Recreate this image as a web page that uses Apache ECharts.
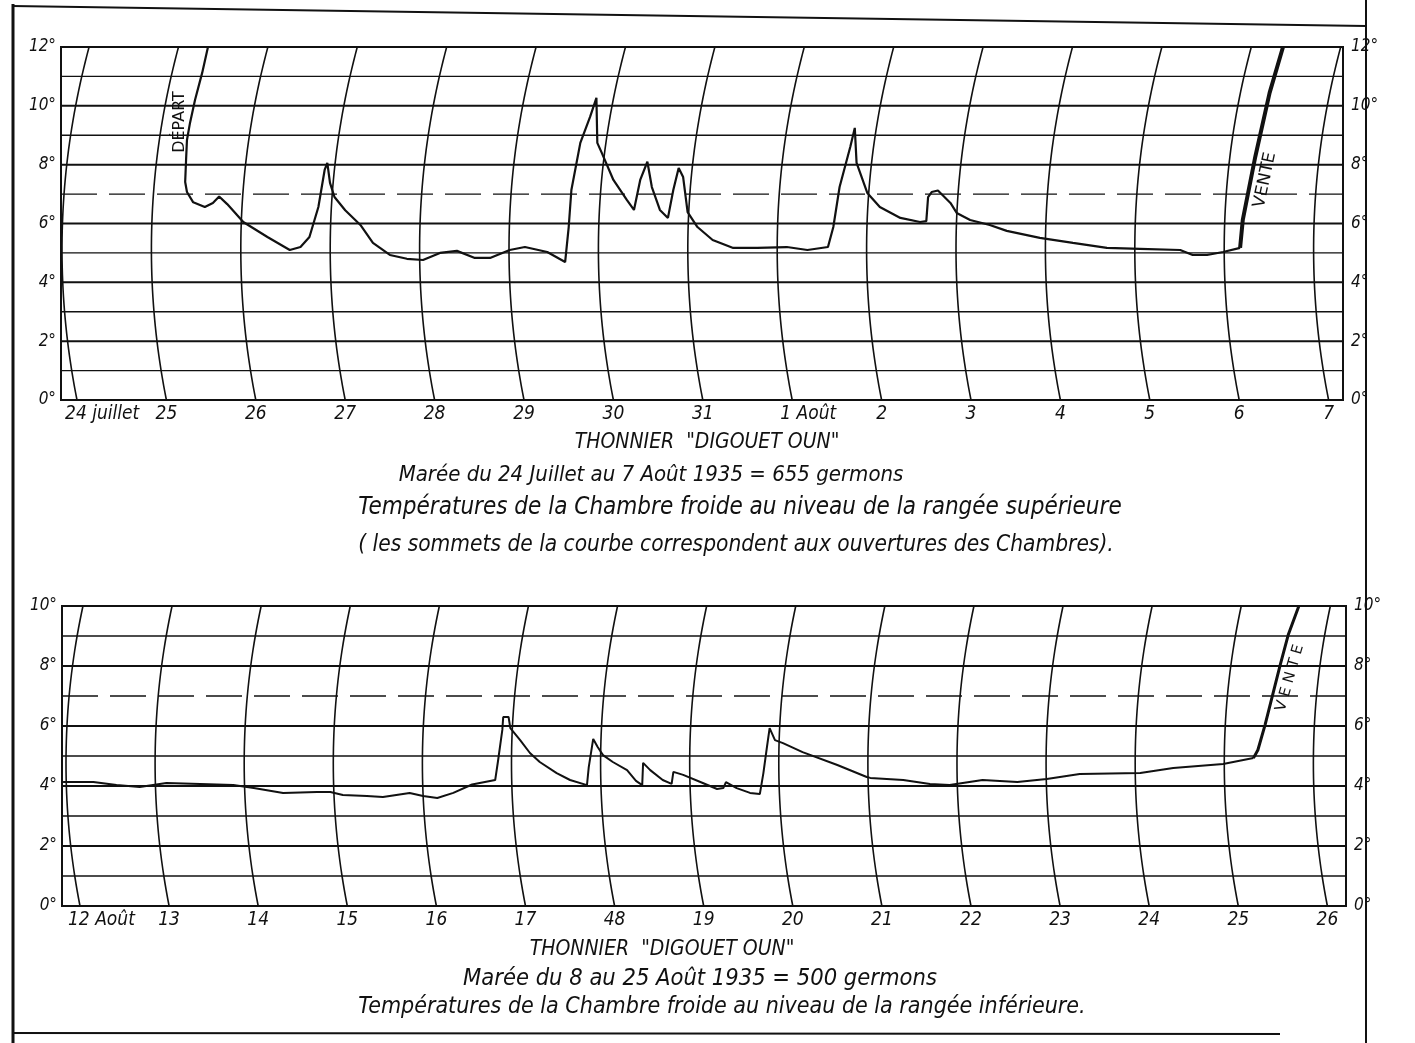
<!DOCTYPE html>
<html>
<head>
<meta charset="utf-8">
<title>Thonnier Digouet Oun</title>
<script src="https://cdn.jsdelivr.net/npm/echarts@6/dist/echarts.min.js"></script>
<style>
  html, body { margin: 0; background: #fff; }
  #main { width: 1415px; height: 1043px; }
</style>
</head>
<body>
<div id="main"></div>
<script>
// day lines of the thermograph paper, 0 = first day shown
const topDays = [0, 1, 2, 3, 4, 5, 6, 7, 8, 9, 10, 11, 12, 13, 14];
const topDayLabels = ['24 juillet', '25', '26', '27', '28', '29', '30', '31', '1 Août', '2', '3', '4', '5', '6', '7'];
const topDegrees = [0, 1, 2, 3, 4, 5, 6, 7, 8, 9, 10, 11, 12];

const botDays = [0, 1, 2, 3, 4, 5, 6, 7, 8, 9, 10, 11, 12, 13, 14];
const botDayLabels = ['12 Août', '13', '14', '15', '16', '17', '48', '19', '20', '21', '22', '23', '24', '25', '26'];
const botDegrees = [0, 1, 2, 3, 4, 5, 6, 7, 8, 9, 10];

// top trip : time in days since 24 July, temperature in degrees
const topTime = [1.465, 1.40, 1.32, 1.264, 1.23, 1.22, 1.21, 1.23, 1.30, 1.43, 1.52, 1.59, 1.68, 1.86, 2.13, 2.38,
  2.50, 2.60, 2.70, 2.77, 2.80, 2.83, 2.88, 3.00, 3.17, 3.31, 3.50, 3.69, 3.87, 4.06, 4.25, 4.45, 4.62, 4.84,
  5.01, 5.26, 5.46, 5.50, 5.53, 5.63, 5.74, 5.81, 5.82, 5.87, 6.00, 6.15, 6.23, 6.30, 6.38, 6.43, 6.52, 6.61,
  6.67, 6.73, 6.78, 6.83, 6.94, 7.11, 7.34, 7.61, 7.94, 8.17, 8.40, 8.46, 8.53, 8.65, 8.70, 8.72, 8.84, 8.98,
  9.21, 9.43, 9.50, 9.52, 9.56, 9.63, 9.77, 9.84, 9.99, 10.21, 10.40, 10.77, 11.14, 11.52, 11.89, 12.34, 12.48,
  12.64, 12.82, 13.01];
const topTemp = [12.0, 11.12, 10.2, 9.42, 8.84, 8.16, 7.41, 7.07, 6.72, 6.56, 6.70, 6.92, 6.66, 6.05, 5.54, 5.10,
  5.20, 5.54, 6.56, 7.82, 8.06, 7.38, 6.90, 6.45, 5.95, 5.34, 4.93, 4.80, 4.76, 5.00, 5.07, 4.83, 4.83, 5.10,
  5.20, 5.03, 4.69, 5.88, 7.14, 8.74, 9.63, 10.27, 8.74, 8.40, 7.48, 6.80, 6.46, 7.48, 8.10, 7.24, 6.46, 6.19,
  7.14, 7.89, 7.58, 6.39, 5.88, 5.44, 5.17, 5.17, 5.20, 5.10, 5.20, 5.88, 7.24, 8.61, 9.25, 8.06, 7.04, 6.56,
  6.19, 6.05, 6.08, 6.90, 7.07, 7.12, 6.70, 6.36, 6.12, 5.95, 5.75, 5.51, 5.34, 5.17, 5.14, 5.10, 4.93,
  4.93, 5.03, 5.17];
const topSaleTime = [13.01, 13.04, 13.18, 13.34, 13.49];
const topSaleTemp = [5.17, 6.12, 8.27, 10.44, 12.0];

// bottom trip : time in days since 12 August
const botTime = [-0.19, 0.15, 0.41, 0.67, 0.97, 1.35, 1.72, 1.95, 2.28, 2.66, 2.81, 2.95, 3.22, 3.40, 3.70, 3.85,
  4.01, 4.19, 4.40, 4.66, 4.69, 4.74, 4.75, 4.81, 4.83, 4.94, 5.05, 5.16, 5.35, 5.50, 5.69, 5.71, 5.76, 5.81,
  5.87, 5.98, 6.14, 6.24, 6.31, 6.32, 6.40, 6.54, 6.64, 6.66, 6.77, 6.99, 7.15, 7.22, 7.25, 7.37, 7.52, 7.63,
  7.67, 7.71, 7.74, 7.80, 7.89, 8.11, 8.50, 8.83, 8.87, 9.24, 9.54, 9.76, 10.13, 10.52, 10.85, 11.22, 11.90,
  12.27, 12.83, 13.17];
const botTemp = [4.13, 4.13, 4.03, 3.97, 4.10, 4.07, 4.03, 3.93, 3.77, 3.80, 3.80, 3.70, 3.67, 3.63, 3.77, 3.67,
  3.60, 3.77, 4.05, 4.20, 4.80, 5.87, 6.30, 6.30, 5.93, 5.53, 5.10, 4.80, 4.43, 4.20, 4.03, 4.63, 5.57, 5.30,
  5.03, 4.80, 4.53, 4.17, 4.03, 4.77, 4.53, 4.20, 4.07, 4.47, 4.37, 4.10, 3.90, 3.93, 4.13, 3.93, 3.77, 3.73,
  4.43, 5.30, 5.93, 5.53, 5.43, 5.13, 4.70, 4.30, 4.27, 4.20, 4.07, 4.03, 4.20, 4.13, 4.23, 4.40, 4.43,
  4.60, 4.73, 4.93];
const botSaleTime = [13.17, 13.22, 13.30, 13.47, 13.56, 13.68];
const botSaleTemp = [4.93, 5.20, 6.03, 8.03, 9.03, 10.0];

const INK = '#111';
const FONT = '"DejaVu Sans Condensed", "Liberation Sans Narrow", "DejaVu Sans", sans-serif';
const CAPS = '"DejaVu Sans", sans-serif';

const pairs = (xs, ys) => xs.map((x, i) => [x, ys[i]]);

// the day lines of the paper are arcs drawn by the pen arm
function dayArcs(labels, vmax, bend) {
  return function (params, api) {
    const d = api.value(0);
    const pts = [];
    for (let v = 0; v <= vmax + 0.001; v += 0.25) {
      const p = api.coord([d, v]);
      pts.push([p[0] + bend(v), p[1]]);
    }
    const base = api.coord([d, 0]);
    const lab = labels[params.dataIndex];
    const wide = lab.indexOf(' ') >= 0;
    return {
      type: 'group',
      children: [
        { type: 'polyline', shape: { points: pts }, style: { stroke: INK, lineWidth: 1.6, fill: null } },
        {
          type: 'text', x: wide ? base[0] - 12 : base[0], y: base[1] + 14,
          style: { text: lab, align: wide ? 'left' : 'center', verticalAlign: 'middle',
            fontSize: 19, fontStyle: 'italic', fontFamily: FONT, fill: INK }
        }
      ]
    };
  };
}

function degreeLines(params, api) {
  const v = api.value(1);
  const y = api.coord([0, v])[1];
  const cs = params.coordSys;
  return {
    type: 'line',
    shape: { x1: cs.x, y1: y, x2: cs.x + cs.width, y2: y },
    style: { stroke: INK, lineWidth: v % 2 === 0 ? 2 : 1.3, lineDash: v === 7 ? [36, 12] : null }
  };
}

const yLabel = { formatter: v => v + '°', fontSize: 17, fontStyle: 'italic', fontFamily: FONT, color: INK };
function yAx(grid, pos, max) {
  return {
    type: 'value', gridIndex: grid, position: pos, min: 0, max: max, interval: 2,
    axisLine: { show: false }, axisTick: { show: false }, splitLine: { show: false },
    axisLabel: Object.assign({ margin: pos === 'left' ? 5 : 8 }, yLabel)
  };
}

const txt = (x, y, text, size) => ({
  type: 'text', x: x, y: y,
  style: { text: text, fontSize: size, fontStyle: 'italic', fontFamily: FONT, fill: INK, align: 'center', verticalAlign: 'middle' }
});
const caps = (x, y, text, size, deg) => ({
  type: 'text', x: x, y: y, rotation: deg * Math.PI / 180,
  style: { text: text, fontSize: size, fontFamily: CAPS, fill: INK, align: 'center', verticalAlign: 'middle' }
});

const option = {
  backgroundColor: '#fff',
  animation: false,
  grid: [
    { left: 61, top: 47, width: 1282, height: 353, show: true, borderColor: INK, borderWidth: 2 },
    { left: 62, top: 606, width: 1284, height: 300, show: true, borderColor: INK, borderWidth: 2 }
  ],
  xAxis: [
    { type: 'value', gridIndex: 0, min: -0.179, max: 14.161, show: false },
    { type: 'value', gridIndex: 1, min: -0.202, max: 14.209, show: false }
  ],
  yAxis: [yAx(0, 'left', 12), yAx(0, 'right', 12), yAx(1, 'left', 10), yAx(1, 'right', 10)],
  series: [
    { type: 'custom', xAxisIndex: 0, yAxisIndex: 0, silent: true, renderItem: degreeLines,
      data: topDegrees.map(v => [0, v]) },
    { type: 'custom', xAxisIndex: 0, yAxisIndex: 0, silent: true,
      renderItem: dayArcs(topDayLabels, 12, v => 0.572 * (v - 5.12) * (v - 5.12) - 15),
      data: topDays.map(d => [d, 0]) },
    { type: 'line', xAxisIndex: 0, yAxisIndex: 0, silent: true, showSymbol: false,
      lineStyle: { color: INK, width: 2.2 }, data: pairs(topTime, topTemp) },
    { type: 'line', xAxisIndex: 0, yAxisIndex: 0, silent: true, showSymbol: false,
      lineStyle: { color: INK, width: 4 }, data: pairs(topSaleTime, topSaleTemp) },

    { type: 'custom', xAxisIndex: 1, yAxisIndex: 2, silent: true, renderItem: degreeLines,
      data: botDegrees.map(v => [0, v]) },
    { type: 'custom', xAxisIndex: 1, yAxisIndex: 2, silent: true,
      renderItem: dayArcs(botDayLabels, 10, v => 0.618 * (v - 4.76) * (v - 4.76) - 14),
      data: botDays.map(d => [d, 0]) },
    { type: 'line', xAxisIndex: 1, yAxisIndex: 2, silent: true, showSymbol: false,
      lineStyle: { color: INK, width: 2 }, data: pairs(botTime, botTemp) },
    { type: 'line', xAxisIndex: 1, yAxisIndex: 2, silent: true, showSymbol: false,
      lineStyle: { color: INK, width: 3 }, data: pairs(botSaleTime, botSaleTemp) }
  ],
  graphic: [
    // page frame
    { type: 'line', shape: { x1: 13, y1: 4, x2: 13, y2: 1043 }, style: { stroke: INK, lineWidth: 3 } },
    { type: 'line', shape: { x1: 1366, y1: 0, x2: 1366, y2: 1043 }, style: { stroke: INK, lineWidth: 2 } },
    { type: 'line', shape: { x1: 12, y1: 6, x2: 1366, y2: 26 }, style: { stroke: INK, lineWidth: 1.8 } },
    { type: 'line', shape: { x1: 12, y1: 1033, x2: 1280, y2: 1034 }, style: { stroke: INK, lineWidth: 1.8 } },

    // annotations on the curves
    caps(180, 122, 'DÉPART', 16, 90),
    caps(1265, 180, 'VENTE', 17, 78),
    caps(1290, 678, 'V E N T E', 15, 74),

    // captions
    txt(707, 443, 'THONNIER  "DIGOUET OUN"', 21),
    txt(651, 475, 'Marée du 24 Juillet au 7 Août 1935 = 655 germons', 22),
    txt(740, 508, 'Températures de la Chambre froide au niveau de la rangée supérieure', 24),
    txt(736, 545, '( les sommets de la courbe correspondent aux ouvertures des Chambres).', 22.5),
    txt(662, 950, 'THONNIER  "DIGOUET OUN"', 21),
    txt(700, 979, 'Marée du 8 au 25 Août 1935 = 500 germons', 23.5),
    txt(722, 1007, 'Températures de la Chambre froide au niveau de la rangée inférieure.', 23)
  ]
};

const chart = echarts.init(document.getElementById('main'));
chart.setOption(option);
</script>
</body>
</html>
